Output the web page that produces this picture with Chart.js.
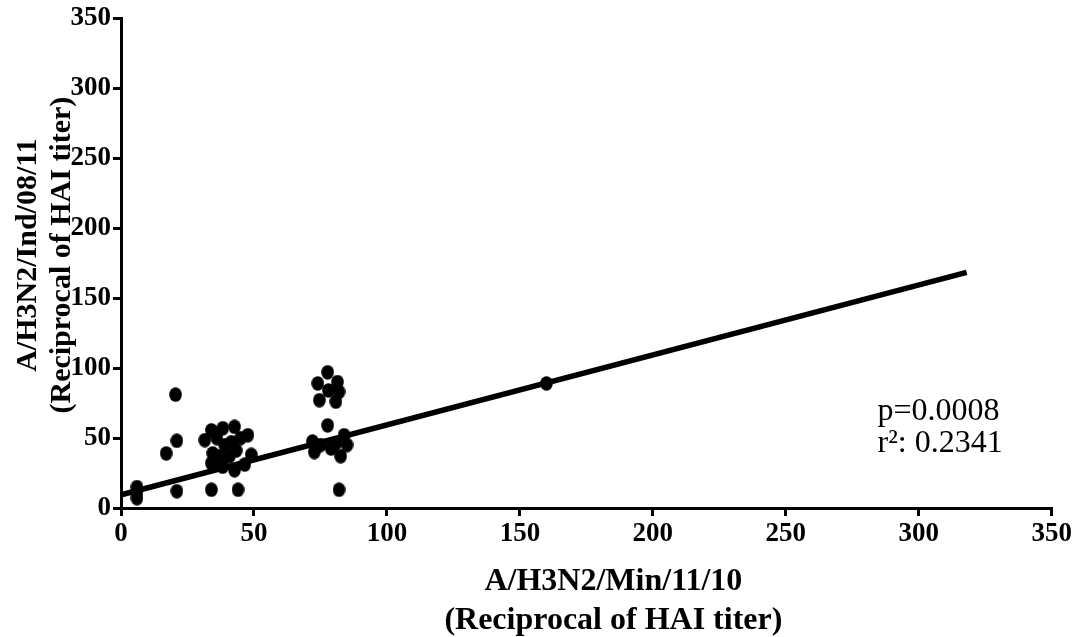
<!DOCTYPE html>
<html>
<head>
<meta charset="utf-8">
<script src="https://cdn.jsdelivr.net/npm/chart.js@4.4.1/dist/chart.umd.min.js"></script>
<style>
  body { margin: 0; background: #fff; }
  canvas { display: block; }
</style>
</head>
<body>
<canvas id="chart" width="1074" height="637"></canvas>
<script>
// HAI titers per subject: Min/11/10 (x) against Ind/08/11 (y)
const minTiters = [
  6, 6, 6,
  17, 21, 20.5, 21,
  34, 44,
  31.5, 34, 38.3, 42.7, 47.7, 49, 46.5, 42.7, 38.2, 34, 34.5, 39, 41.5, 43.3, 40.8, 37, 45, 36,
  74, 77.7, 81.4, 74.6, 80.8, 82, 78,
  77.7, 72, 75, 72.7, 80.8, 83.9, 85, 82.6, 79,
  82,
  160
]
const indTiters = [
  15, 11, 7,
  39, 48, 81, 12,
  13, 13,
  48.5, 55.5, 57, 58, 52, 38, 31, 27, 29.5, 32, 39, 45, 47, 41, 37, 37, 50, 50,
  89, 97, 90, 77, 76, 83, 84,
  59, 47.5, 45, 40, 46, 52, 45, 37, 42.5,
  13,
  89
]

// linear fit
const slope = 0.5
const intercept = 9.4
const fitRange = [0.5, 318]

const stats = ['p=0.0008', 'r\u00b2: 0.2341']
const xTitle = ['A/H3N2/Min/11/10', '(Reciprocal of HAI titer)']
const yTitle = ['A/H3N2/Ind/08/11', '(Reciprocal of HAI titer)']

const xTicks = [0, 50, 100, 150, 200, 250, 300, 350]
const yTicks = [0, 50, 100, 150, 200, 250, 300, 350]

const points = minTiters.map((x, i) => ({ x: x, y: indTiters[i] }))
const fitLine = fitRange.map(x => ({ x: x, y: slope * x + intercept }))

const serif = '"Liberation Serif", "Times New Roman", serif'

// slightly tall oval marker
const dot = document.createElement('canvas')
dot.width = 13
dot.height = 15
const dctx = dot.getContext('2d')
dctx.fillStyle = '#000'
dctx.beginPath()
dctx.ellipse(6.5, 7.5, 6.3, 7.3, 0, 0, Math.PI * 2)
dctx.fill()

// p value and r squared, next to the fit line
const statsLabel = {
  id: 'statsLabel',
  afterDatasetsDraw(chart) {
    const ctx = chart.ctx
    const x = chart.scales.x.getPixelForValue(284.5)
    const y = chart.scales.y.getPixelForValue(63)
    ctx.save()
    ctx.font = '32px ' + serif
    ctx.fillStyle = '#000'
    ctx.textBaseline = 'alphabetic'
    stats.forEach((t, i) => ctx.fillText(t, x, y + i * 32))
    ctx.restore()
  }
}

// two-line axis titles, placed by hand
const axisTitles = {
  id: 'axisTitles',
  afterDraw(chart) {
    const ctx = chart.ctx
    const a = chart.chartArea
    ctx.save()
    ctx.fillStyle = '#000'
    ctx.textAlign = 'center'
    ctx.textBaseline = 'middle'
    ctx.font = 'bold 32px ' + serif
    const cx = (a.left + a.right) / 2 + 27
    xTitle.forEach((t, i) => ctx.fillText(t, cx, a.bottom + 74 + i * 39))
    ctx.font = 'bold 30px ' + serif
    ctx.translate(0, (a.top + a.bottom) / 2 - 8)
    ctx.rotate(-Math.PI / 2)
    yTitle.forEach((t, i) => ctx.fillText(t, 0, 28 + i * 34))
    ctx.restore()
  }
}

const axisBase = {
  type: 'linear',
  min: 0,
  max: 350,
  grid: {
    drawOnChartArea: false,
    drawTicks: true,
    tickLength: 8,
    color: '#000',
    lineWidth: 3
  },
  border: { color: '#000', width: 3 }
}

new Chart(document.getElementById('chart'), {
  type: 'scatter',
  data: {
    datasets: [{
      data: points,
      pointStyle: dot,
      backgroundColor: '#000',
      borderWidth: 0,
      pointRadius: 7
    }, {
      type: 'line',
      data: fitLine,
      borderColor: '#000',
      borderWidth: 5.5,
      pointRadius: 0,
      fill: false
    }]
  },
  options: {
    responsive: false,
    animation: false,
    layout: { padding: { top: 18, right: 19, left: 0, bottom: 0 } },
    plugins: { legend: { display: false }, tooltip: { enabled: false } },
    scales: {
      x: {
        ...axisBase,
        afterBuildTicks: s => { s.ticks = xTicks.map(v => ({ value: v })) },
        afterFit: s => { s.height = 129 },
        ticks: {
          color: '#000',
          padding: 2,
          maxRotation: 0,
          font: { family: serif, size: 27, weight: 'bold' }
        }
      },
      y: {
        ...axisBase,
        afterBuildTicks: s => { s.ticks = yTicks.map(v => ({ value: v })) },
        afterFit: s => { s.width = 121 },
        ticks: {
          color: '#000',
          padding: 2,
          font: { family: serif, size: 27, weight: 'bold' }
        }
      }
    }
  },
  plugins: [statsLabel, axisTitles]
})
</script>
</body>
</html>
